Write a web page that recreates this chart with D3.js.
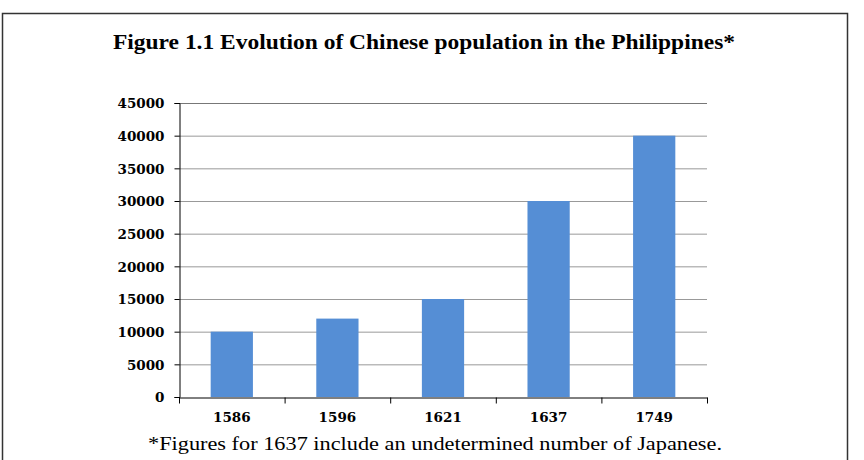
<!DOCTYPE html>
<html><head><meta charset="utf-8">
<script src="https://cdn.jsdelivr.net/npm/d3@7"></script>
<style>body{margin:0;background:#fff}svg{display:block}</style>
</head><body>
<svg id="c" width="864" height="460"></svg>
<script>
const categories = ["1586", "1596", "1621", "1637", "1749"];
const values = [10000, 12000, 15000, 30000, 40000];
const yTicks = [0, 5000, 10000, 15000, 20000, 25000, 30000, 35000, 40000, 45000];
const title = "Figure 1.1 Evolution of Chinese population in the Philippines*";
const note = "*Figures for 1637 include an undetermined number of Japanese.";

const svg = d3.select("#c");
const tickFont = "'DejaVu Serif', serif";
const textFont = "'Liberation Serif', serif";

svg.append("rect").attr("x", 2.5).attr("y", 13.5).attr("width", 845).attr("height", 470)
  .attr("fill", "#fff").attr("stroke", "#333").attr("stroke-width", 1.5);

const m = {l: 179, r: 707, t: 103, b: 397};
const x = d3.scaleBand().domain(categories).range([m.l, m.r]).paddingInner(0.6).paddingOuter(0.3);
const xb = d3.scaleBand().domain(categories).range([m.l, m.r]);
const y = d3.scaleLinear().domain([0, 45000]).range([m.b, m.t]);

// grid
svg.append("g").selectAll("line").data(yTicks.filter(d => d > 0)).join("line")
  .attr("x1", m.l).attr("x2", m.r).attr("y1", d => y(d) + 0.5).attr("y2", d => y(d) + 0.5)
  .attr("stroke", d => d === 45000 ? "#777" : "#999").attr("stroke-width", 1);

// bars
svg.append("g").selectAll("rect").data(values).join("rect")
  .attr("x", (d, i) => x(categories[i])).attr("width", x.bandwidth())
  .attr("y", d => y(d)).attr("height", d => y(0) - y(d))
  .attr("fill", "#558ED5");

function fit(sel, w) {
  sel.each(function() {
    const cur = this.getComputedTextLength();
    const fs = parseFloat(d3.select(this).attr("font-size"));
    d3.select(this).attr("font-size", fs * w / cur);
  });
}

// y axis
const ya = svg.append("g").attr("transform", `translate(${m.l + 0.5},0)`)
  .call(d3.axisLeft(y).tickValues(yTicks).tickSize(5).tickPadding(10).tickFormat(d => d));
ya.select(".domain").attr("stroke", "#000");
ya.selectAll(".tick line").attr("stroke", "#000");
ya.selectAll("text").attr("font-family", tickFont).attr("font-weight", "bold").attr("font-size", 14).attr("fill", "#000").attr("dy", "0.36em");
fit(ya.selectAll(".tick").filter(d => d === 45000).select("text"), 47);
const yfs = ya.selectAll(".tick").filter(d => d === 45000).select("text").attr("font-size");
ya.selectAll("text").attr("font-size", yfs);

// x axis
const xa = svg.append("g").attr("transform", `translate(0,${m.b + 0.5})`)
  .call(d3.axisBottom(xb).tickSize(0).tickPadding(15));
xa.select(".domain").attr("stroke", "#000");
xa.selectAll("text").attr("font-family", tickFont).attr("font-weight", "bold").attr("font-size", yfs).attr("fill", "#000");
const bounds = xb.domain().map(d => xb(d)).concat([m.r]);
xa.append("g").selectAll("line").data(bounds).join("line")
  .attr("x1", d => d + 0.5).attr("x2", d => d + 0.5).attr("y1", 0).attr("y2", 6).attr("stroke", "#000");

// title
svg.append("text").attr("x", 424).attr("y", 49).attr("text-anchor", "middle")
  .attr("font-family", textFont).attr("font-weight", "bold").attr("font-size", 20).attr("fill", "#000").text(title)
  .attr("textLength", 622).attr("lengthAdjust", "spacingAndGlyphs");

svg.append("text").attr("x", 435).attr("y", 450).attr("text-anchor", "middle")
  .attr("font-family", textFont).attr("font-size", 19).attr("fill", "#000").text(note)
  .attr("textLength", 574).attr("lengthAdjust", "spacingAndGlyphs");
</script>
</body></html>
